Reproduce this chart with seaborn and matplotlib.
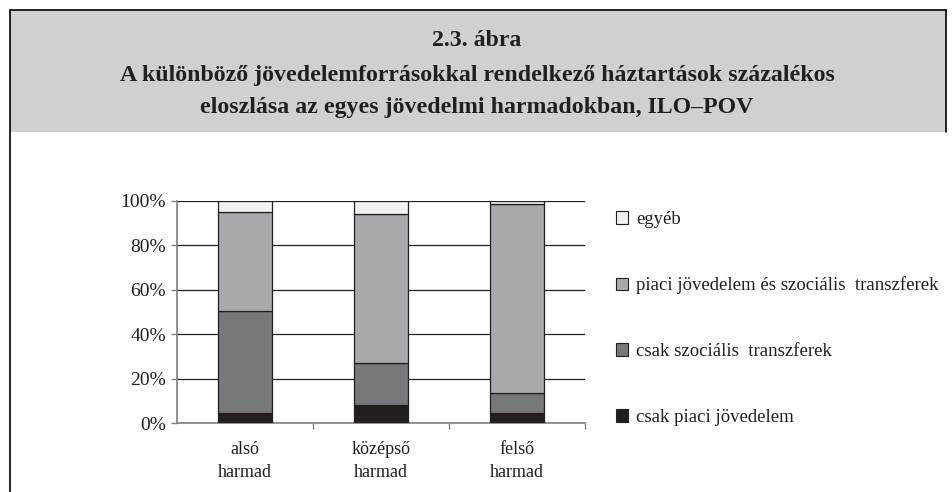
import matplotlib
matplotlib.use("Agg")
import matplotlib.pyplot as plt
import seaborn as sns
import numpy as np
import pandas as pd
from matplotlib.patches import Rectangle, Patch
from matplotlib.lines import Line2D

categories = ["alsó\nharmad", "középső\nharmad", "felső\nharmad"]
series_names = ["csak piaci jövedelem", "csak szociális  transzferek",
                "piaci jövedelem és szociális  transzferek", "egyéb"]
csak_piaci = [4.6, 8.0, 4.5]
csak_szoc = [46.0, 19.0, 9.0]
piaci_es_szoc = [44.5, 67.0, 85.0]
egyeb = [4.9, 6.0, 1.5]
series_values = [csak_piaci, csak_szoc, piaci_es_szoc, egyeb]
colors = ["#231f20", "#77787b", "#a7a9ac", "#f0f0f0"]
yticklabels = ["0%", "20%", "40%", "60%", "80%", "100%"]
title_lines = ["2.3. ábra",
               "A különböző jövedelemforrásokkal rendelkező háztartások százalékos",
               "eloszlása az egyes jövedelmi harmadokban, ILO–POV"]

sns.set_style("white")
plt.rcParams["font.family"] = ["Liberation Serif", "DejaVu Serif"]

W, H = 953, 492
fig = plt.figure(figsize=(W / 100, H / 100), dpi=100)

# header band and frame
fig.patches.append(Rectangle((10 / W, 1 - 132 / H), (946 - 10) / W, (132 - 10) / H,
                             transform=fig.transFigure, facecolor="#d0d0d0",
                             edgecolor="none", zorder=0))
fig.lines.append(Line2D([10 / W, 946 / W], [1 - 10 / H, 1 - 10 / H],
                        transform=fig.transFigure, color="black", lw=1.2))
fig.lines.append(Line2D([10 / W, 10 / W], [1 - 10 / H, 0],
                        transform=fig.transFigure, color="black", lw=1.2))
fig.lines.append(Line2D([946 / W, 946 / W], [1 - 10 / H, 1 - 132 / H],
                        transform=fig.transFigure, color="black", lw=1.2))

title_y = [41, 75, 108]
for txt, yy in zip(title_lines, title_y):
    fig.text(477 / W, 1 - yy / H, txt, ha="center", va="center",
             fontsize=17.2, fontweight="bold", color="#231f20")

ax = fig.add_axes([177 / W, 1 - 423 / H, (585 - 177) / W, (423 - 201) / H])

df = pd.DataFrame({"kat": categories})
bottom = np.zeros(len(categories))
for name, vals, col in zip(series_names, series_values, colors):
    df["v"] = vals
    sns.barplot(data=df, x="kat", y="v", bottom=bottom, color=col, width=0.4,
                edgecolor="#231f20", linewidth=0.9, ax=ax, saturation=1,
                zorder=3)
    bottom = bottom + np.array(vals)

ax.set_ylim(0, 100)
ax.set_xlim(-0.5, 2.5)
ax.set_yticks([0, 20, 40, 60, 80, 100])
ax.set_yticklabels(yticklabels)
ax.set_xlabel("")
ax.set_ylabel("")
ax.grid(axis="y", color="#231f20", lw=0.9, zorder=0)
ax.set_axisbelow(True)
for s in ["top", "right"]:
    ax.spines[s].set_visible(False)
for s in ["left", "bottom"]:
    ax.spines[s].set_color("#808080")
    ax.spines[s].set_linewidth(1.2)
ax.tick_params(axis="y", length=4, width=1, color="#808080", labelsize=14,
               labelcolor="#231f20", pad=4, left=True)
ax.set_xticks([0.5, 1.5, 2.5], minor=True)
ax.tick_params(axis="x", which="major", length=0, labelsize=13,
               labelcolor="#231f20", pad=13)
ax.tick_params(axis="x", which="minor", length=4, width=1, color="#808080",
               bottom=True)
for lbl in ax.get_xticklabels():
    lbl.set_linespacing(1.45)

handles = [Patch(facecolor=c, edgecolor="#231f20", linewidth=0.8)
           for c in colors[::-1]]
fig.legend(handles, series_names[::-1], loc="upper left",
           bbox_to_anchor=(599 / W, 1 - 194 / H), frameon=False,
           fontsize=13.5, labelspacing=2.6, handlelength=0.65,
           handleheight=0.65, handletextpad=0.45, labelcolor="#231f20")

fig.savefig("out.png", dpi=100)
